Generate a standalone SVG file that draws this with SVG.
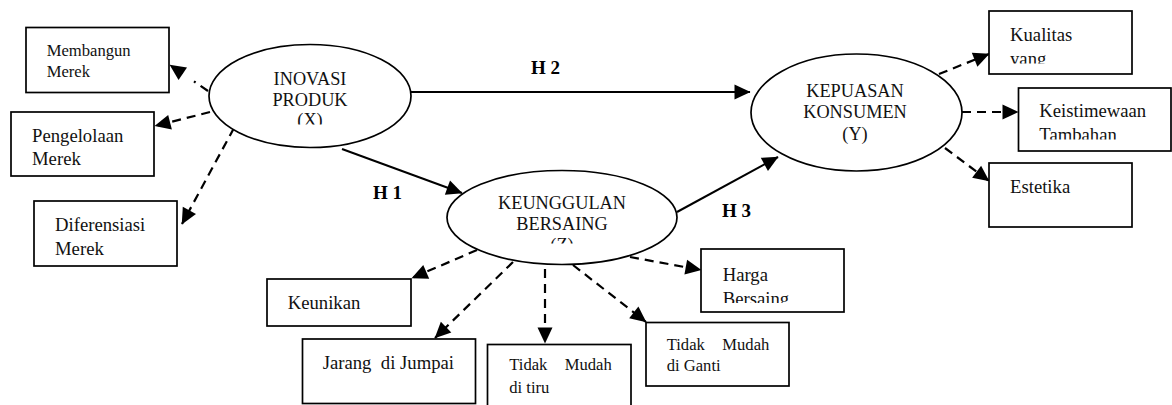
<svg xmlns="http://www.w3.org/2000/svg" width="1172" height="405" viewBox="0 0 1172 405">
<style>
  .box { fill: #fff; stroke: #000; stroke-width: 1.7; }
  .ell { fill: #fff; stroke: #000; stroke-width: 1.7; }
  .t { font-family: "Liberation Serif", "Times New Roman", serif; font-size: 18.7px; fill: #111; white-space: pre; }
  .ts { font-size: 16.6px; }
  .te { font-family: "Liberation Serif", "Times New Roman", serif; font-size: 18.3px; fill: #111; text-anchor: middle; }
  .h { font-family: "Liberation Serif", "Times New Roman", serif; font-size: 19px; font-weight: bold; fill: #000; white-space: pre; }
  .solid { fill: none; stroke: #000; stroke-width: 2; marker-end: url(#ah); }
  .dash { fill: none; stroke: #000; stroke-width: 2.2; stroke-dasharray: 9 6; marker-end: url(#ah); }
  .dashdot { fill: none; stroke: #000; stroke-width: 2.2; stroke-dasharray: 9 6 2 14; marker-end: url(#ah); }
</style>
<defs>
  <marker id="ah" markerUnits="userSpaceOnUse" markerWidth="17" markerHeight="15" refX="15.5" refY="7.5" orient="auto" overflow="visible">
    <path d="M0,0 L16,7.5 L0,15 z" fill="#000"/>
  </marker>
  <clipPath id="cX"><rect x="200" y="40" width="220" height="84.5"/></clipPath>
  <clipPath id="cZ"><rect x="440" y="165" width="245" height="78.5"/></clipPath>
  <clipPath id="cKual"><rect x="989" y="11" width="143" height="52.5"/></clipPath>
  <clipPath id="cKeis"><rect x="1018" y="88" width="154" height="51.5"/></clipPath>
  <clipPath id="cHarga"><rect x="701" y="249" width="143" height="54"/></clipPath>
</defs>

<g id="connectors">
  <path class="solid" d="M411,92 L750,92"/>
  <path class="solid" d="M342,149 L462,193"/>
  <path class="solid" d="M677,212 L778,157"/>
  <path class="dashdot" d="M208,91 L170,65"/>
  <path class="dash" d="M210,112 L155,126"/>
  <path class="dash" d="M234,128 L182,224"/>
  <path class="dash" d="M939,74 L989,54"/>
  <path class="dash" d="M962,112 L1018,112"/>
  <path class="dash" d="M945,148 L989,181"/>
  <path class="dash" d="M477,250 L412,278"/>
  <path class="dash" d="M513,262 L435,338"/>
  <path class="dash" d="M545,269 L545,343"/>
  <path class="dash" d="M573,265 L646,322"/>
  <path class="dash" d="M630,257 L701,270"/>
  <text class="h" x="531" y="74">H 2</text>
  <text class="h" x="373" y="199">H 1</text>
  <text class="h" x="722" y="217">H 3</text>
</g>

<g id="inovasi">
  <ellipse class="ell" cx="310" cy="96" rx="101" ry="51.5"/>
  <g clip-path="url(#cX)">
    <text class="te" x="310" y="85">INOVASI</text>
    <text class="te" x="310" y="105.5">PRODUK</text>
    <text class="te" x="310" y="126">(X)</text>
  </g>
</g>

<g id="keunggulan">
  <ellipse class="ell" cx="562" cy="217.5" rx="115" ry="47"/>
  <g clip-path="url(#cZ)">
    <text class="te" x="562" y="209.3">KEUNGGULAN</text>
    <text class="te" x="562" y="230">BERSAING</text>
    <text class="te" x="562" y="250.7">(Z)</text>
  </g>
</g>

<g id="kepuasan">
  <ellipse class="ell" cx="856.5" cy="112.5" rx="105.5" ry="58.5"/>
  <text class="te" x="855" y="96.7">KEPUASAN</text>
  <text class="te" x="855" y="118.3">KONSUMEN</text>
  <text class="te" x="855" y="139.5">(Y)</text>
</g>

<g id="membangun">
  <rect class="box" x="26" y="27.5" width="143" height="65"/>
  <text class="t ts" x="46.7" y="56">Membangun</text>
  <text class="t ts" x="46.7" y="76.7">Merek</text>
</g>

<g id="pengelolaan">
  <rect class="box" x="11" y="112" width="143" height="64"/>
  <text class="t" x="32" y="141.7">Pengelolaan</text>
  <text class="t" x="32" y="165">Merek</text>
</g>

<g id="diferensiasi">
  <rect class="box" x="34" y="201" width="143" height="65"/>
  <text class="t" x="55" y="230.7">Diferensiasi</text>
  <text class="t" x="55" y="255">Merek</text>
</g>

<g id="kualitas">
  <rect class="box" x="989" y="11" width="143" height="63"/>
  <g clip-path="url(#cKual)">
    <text class="t" x="1010" y="41">Kualitas</text>
    <text class="t" x="1010" y="65">yang</text>
  </g>
</g>

<g id="keistimewaan">
  <rect class="box" x="1018.5" y="88" width="152.5" height="63"/>
  <g clip-path="url(#cKeis)">
    <text class="t" x="1039.3" y="117.3">Keistimewaan</text>
    <text class="t" x="1039.3" y="141">Tambahan</text>
  </g>
</g>

<g id="estetika">
  <rect class="box" x="989" y="163" width="143" height="64"/>
  <text class="t" x="1010" y="192.7">Estetika</text>
</g>

<g id="keunikan">
  <rect class="box" x="267" y="279" width="144" height="47"/>
  <text class="t" x="287.7" y="309">Keunikan</text>
</g>

<g id="jarang">
  <rect class="box" x="302.5" y="339" width="173" height="64.5"/>
  <text class="t" x="322.7" y="369">Jarang  di Jumpai</text>
</g>

<g id="tidak-mudah-ditiru">
  <rect class="box" x="487.5" y="344.5" width="143.5" height="70"/>
  <text class="t ts" x="509.3" y="370">Tidak</text>
  <text class="t ts" x="611.7" y="370" text-anchor="end">Mudah</text>
  <text class="t ts" x="509.3" y="393.3">di tiru</text>
</g>

<g id="tidak-mudah-diganti">
  <rect class="box" x="646" y="322.5" width="143" height="63.5"/>
  <text class="t ts" x="666.7" y="350">Tidak</text>
  <text class="t ts" x="769.3" y="350" text-anchor="end">Mudah</text>
  <text class="t ts" x="666.7" y="370.7">di Ganti</text>
</g>

<g id="harga">
  <rect class="box" x="701" y="249" width="143" height="63"/>
  <g clip-path="url(#cHarga)">
    <text class="t" x="722.7" y="280.7">Harga</text>
    <text class="t" x="722.7" y="304.5">Bersaing</text>
  </g>
</g>
</svg>
